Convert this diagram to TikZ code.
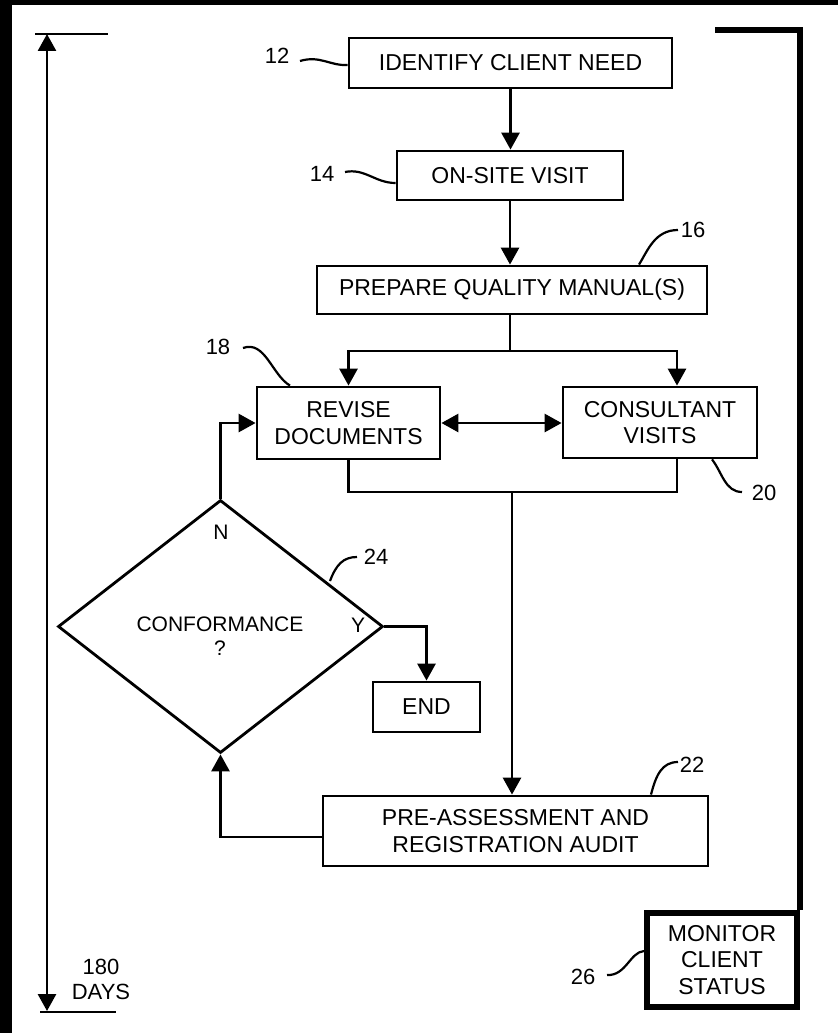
\documentclass[tikz,border=0pt]{standalone}
\usepackage{fontspec}
\setmainfont{Liberation Sans}
\usetikzlibrary{arrows.meta,shapes.geometric,calc}
\begin{document}
\begin{tikzpicture}[x=1pt,y=-1pt,
  line join=miter,
  box/.style={draw,line width=2.8pt,rectangle,inner sep=0pt,align=center,font=\fontsize{23}{26.5}\selectfont},
  thickbox/.style={box,line width=6pt},
  lbl/.style={inner sep=0pt,font=\fontsize{22}{25}\selectfont,align=center},
  small/.style={inner sep=0pt,font=\fontsize{21}{24.5}\selectfont,align=center},
  conn/.style={line width=2.8pt},
  arr/.style={conn,-{Triangle[length=17pt,width=18pt]}},
  arrboth/.style={conn,{Triangle[length=17pt,width=18pt]}-{Triangle[length=17pt,width=18pt]}},
  lead/.style={line width=2.2pt},
  bracket/.style={line width=5.5pt}
]
% page and black scan edges
\fill[white] (0,0) rectangle (838,1033);
\fill[black] (0,0) rectangle (12,1033);
\fill[black] (0,0) rectangle (838,5);
\useasboundingbox (0,0) rectangle (838,1033);

% boxes
\node[box,minimum width=323pt,minimum height=50pt] (n12) at (510.5,63) {IDENTIFY CLIENT NEED};
\node[box,minimum width=226pt,minimum height=49pt] (n14) at (510,175.5) {ON-SITE VISIT};
\node[box,minimum width=390pt,minimum height=48pt] (n16) at (512,290) {PREPARE QUALITY MANUAL(S)};
\node[box,minimum width=183pt,minimum height=72pt] (n18) at (348.5,423) {REVISE\\DOCUMENTS};
\node[box,minimum width=194pt,minimum height=71pt] (n20) at (660,422.5) {CONSULTANT\\VISITS};
\node[box,minimum width=385pt,minimum height=70pt] (n22) at (515.5,831) {PRE-ASSESSMENT AND\\REGISTRATION AUDIT};
\node[box,minimum width=107pt,minimum height=50pt] (end) at (426.5,707) {END};
\node[draw,diamond,line width=2.8pt,inner sep=0pt,aspect=1.28,minimum width=325pt,minimum height=253pt] (d24) at (220.5,626.5) {};
\node[small] (conf) at (220,636) {CONFORMANCE\\?};
\node[small] (ylab) at (358,625) {Y};
\node[small] (nlab) at (221,532) {N};
\node[thickbox,minimum width=150pt,minimum height=94pt] (n26) at (722,960) {MONITOR\\CLIENT\\STATUS};

% reference numbers
\node[lbl] (r12) at (277,56) {12};
\node[lbl] (r14) at (322,174) {14};
\node[lbl] (r16) at (693,230) {16};
\node[lbl] (r18) at (218,347) {18};
\node[lbl] (r20) at (764,493) {20};
\node[lbl] (r22) at (692,765) {22};
\node[lbl] (r24) at (376,557) {24};
\node[lbl] (r26) at (583,977) {26};

% leader lines
\draw[lead] (300,61) .. controls (320,55) and (330,66) .. (n12.west |- 0,65);
\draw[lead] (345,172) .. controls (365,168) and (375,183) .. (n14.west |- 0,183);
\draw[lead] (n16.north -| 639,0) .. controls (648,250) and (655,230) .. (678,230);
\draw[lead] (243,348) .. controls (265,340) and (272,375) .. (n18.north -| 290,0);
\draw[lead] (n20.south -| 712,0) .. controls (722,472) and (725,492) .. (742,492);
\draw[lead] (n22.north -| 651,0) .. controls (656,775) and (662,762) .. (678,762);
\draw[lead] (330,581) .. controls (336,565) and (343,557) .. (357,557);
\draw[lead] (607,975) .. controls (626,976) and (630,952) .. (n26.west |- 0,951);

% main flow
\draw[arr] (n12.south) -- (n12.south |- n14.north);
\draw[arr] (n14.south) -- (n14.south |- n16.north);
\coordinate (split) at (510,351);
\coordinate (c20t) at ($(n20.north)+(17,0)$);
\coordinate (c20b) at ($(n20.south)+(17,0)$);
\draw[conn] (n16.south -| split) -- (split);
\draw[arr] (split) -| (n18.north);
\draw[arr] (split) -| (c20t);
\draw[arrboth] (n18.east) -- (n18.east -| n20.west);
\coordinate (merge) at (512,492);
\draw[conn] (n18.south) -- (n18.south |- merge) -- (merge -| c20b) -- (c20b);
\draw[arr] (merge) -- (merge |- n22.north);
\draw[arr] ($(n22.west)+(0,6)$) -| (d24.south);
\draw[arr] (d24.north) |- (n18.west);
\draw[arr] (d24.east) -| (end.north);

% monitor bracket
\coordinate (bstart) at (715,30);
\draw[bracket] (bstart) -| (n26.north east);

% time line
\coordinate (tTop) at (47,34);
\coordinate (tBot) at (47,1011);
\draw[arrboth] (tTop) -- (tBot);
\draw[conn] (35,34) -- (108,34);
\draw[conn] (40,1012) -- (116,1012);
\node[lbl] (days) at (101,979) {180\\DAYS};
\end{tikzpicture}
\end{document}
